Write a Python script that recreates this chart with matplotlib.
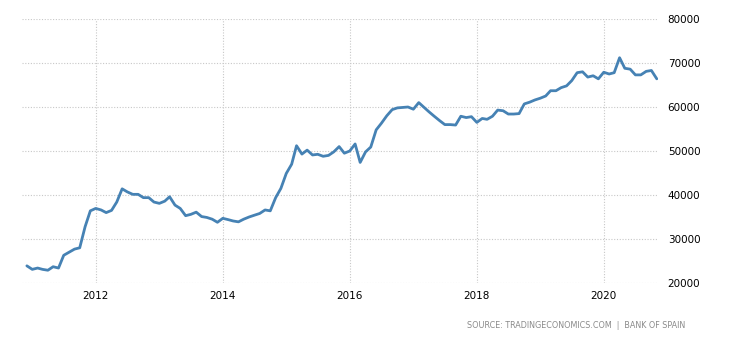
import matplotlib
matplotlib.use('Agg')
import matplotlib.pyplot as plt
import matplotlib.dates as mdates
import pandas as pd

# monthly values, Dec 2010 .. Nov 2020
start_month = '2010-12-01'
values = [
    23900, 23100, 23400, 23100, 22900, 23700, 23400, 26300, 27000, 27700,
    28000, 32800, 36400, 36950, 36600, 36000, 36500, 38400, 41400, 40700,
    40150, 40150, 39400, 39400, 38400, 38100, 38600, 39600, 37700, 36950,
    35300, 35600, 36100, 35100, 34900, 34500, 33800, 34700, 34400, 34100,
    33900, 34500, 35000, 35400, 35800, 36600, 36400, 39400, 41500, 44900,
    47000, 51200, 49300, 50200, 49100, 49250, 48800, 49000, 49800, 51000,
    49500, 50000, 51600, 47400, 49800, 50900, 54800, 56300, 58000, 59400,
    59800, 59900, 60000, 59500, 61000, 60000, 58900, 57900, 56900, 56000,
    56000, 55900, 57900, 57600, 57800, 56500, 57400, 57200, 57900, 59300,
    59150, 58400, 58400, 58500, 60700, 61100, 61600, 62000, 62500, 63700,
    63700, 64400, 64800, 66000, 67800, 68000, 66800, 67100, 66400, 67900,
    67500, 67800, 71200, 68800, 68600, 67300, 67300, 68100, 68300, 66400,
]
year_ticks = ['2012', '2014', '2016', '2018', '2020']
y_ticks = [20000, 30000, 40000, 50000, 60000, 70000, 80000]
source = 'SOURCE: TRADINGECONOMICS.COM  |  BANK OF SPAIN'


def main():
    dates = pd.date_range(start_month, periods=len(values), freq='MS')

    fig = plt.figure(figsize=(7.3, 3.4), dpi=100)
    ax = fig.add_axes([22 / 730, 1 - 283 / 340, 636 / 730, 264 / 340])

    ax.plot(dates, values, color='#4682b4', linewidth=2.0,
            solid_joinstyle='round', solid_capstyle='round')

    ax.set_ylim(y_ticks[0], y_ticks[-1])
    ax.set_yticks(y_ticks)
    ax.set_xlim(pd.Timestamp('2010-11-03'), pd.Timestamp('2020-11-08'))
    ax.set_xticks([pd.Timestamp(y + '-01-01') for y in year_ticks])
    ax.xaxis.set_major_formatter(mdates.DateFormatter('%Y'))

    ax.yaxis.tick_right()
    ax.tick_params(axis='both', length=0, labelsize=7.5, colors='black')
    ax.tick_params(axis='y', pad=7)
    ax.tick_params(axis='x', pad=6)

    for s in ax.spines.values():
        s.set_visible(False)
    ax.grid(True, color='#c8c8c8', linestyle=(0, (1, 1.5)), linewidth=0.8)
    ax.set_axisbelow(True)

    fig.text(685 / 730, 1 - 325 / 340, source, ha='right', va='center',
             fontsize=5.8, color='#8a8a8a')

    fig.savefig('out.png', dpi=100)
    plt.close(fig)


if __name__ == "__main__":
    main()
